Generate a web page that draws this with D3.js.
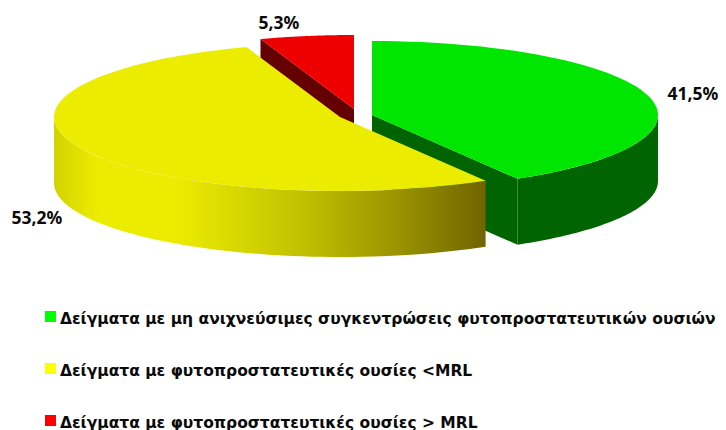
<!DOCTYPE html>
<html><head><meta charset="utf-8">
<script src="https://cdn.jsdelivr.net/npm/d3@7"></script>
<style>html,body{margin:0;padding:0;background:#fff}svg{display:block}
text{font-family:"Noto Sans","Open Sans",sans-serif;font-weight:700;fill:#0a0a0a}
.legend text{font-family:"DejaVu Sans",sans-serif}</style>
</head><body><svg id="c" width="726" height="430"></svg>
<script>
const categories=["Δείγματα με μη ανιχνεύσιμες συγκεντρώσεις φυτοπροστατευτικών ουσιών","Δείγματα με φυτοπροστατευτικές ουσίες <MRL","Δείγματα με φυτοπροστατευτικές ουσίες > MRL"];
const values=[41.5,53.2,5.3];
const valueLabels=["41,5%","53,2%","5,3%"];
const swatchColors=["#00ff00","#ffff00","#ff0000"];
const topColors=["#00e600","#ecec00","#ee0000"];
const wallColors=["#006400","#ecec00","#640000"];
const centers=[[372,115],[340,117],[354,109]];
const labelPos=[[693,100],[37,224],[279,29]];
const legendY=[316.5,368.5,420.5];
const RX=286,RY=74,DEPTH=66;

const svg=d3.select("#c");
const defs=svg.append("defs");
const grad=defs.append("linearGradient").attr("id","yw").attr("gradientUnits","userSpaceOnUse")
  .attr("x1",54).attr("x2",486).attr("y1",0).attr("y2",0);
[[0,"#d2d200"],[0.1,"#ecec00"],[0.28,"#ecec00"],[0.42,"#d8d800"],[0.58,"#c0c000"],[0.8,"#9a9200"],[1,"#6f6400"]]
  .forEach(([o,c])=>grad.append("stop").attr("offset",o).attr("stop-color",c));

const slices=d3.pie().sort(null)(values);
const pt=(c,a,dy=0)=>[c[0]+RX*Math.sin(a),c[1]-RY*Math.cos(a)+dy];
const samples=(a0,a1)=>d3.range(0,61).map(i=>a0+(a1-a0)*i/60);
const line=d3.line();
const g=svg.append("g");

function draw(i){
  const s=slices[i],c=centers[i];
  const lo=Math.max(s.startAngle,Math.PI/2),hi=Math.min(s.endAngle,Math.PI*1.5);
  if(hi>lo){
    const a=samples(lo,hi);
    g.append("path").attr("d",line([...a.map(t=>pt(c,t)),...a.slice().reverse().map(t=>pt(c,t,DEPTH))])+"Z")
     .attr("fill",i===1?"url(#yw)":wallColors[i]);
  }
  const cut=i===0?s.endAngle:i===2?s.startAngle:null;
  if(cut!==null){
    const p=pt(c,cut);
    g.append("path").attr("d",line([c,p,[p[0],p[1]+DEPTH],[c[0],c[1]+DEPTH]])+"Z").attr("fill",wallColors[i]);
  }
  g.append("path").attr("d",line([c,...samples(s.startAngle,s.endAngle).map(t=>pt(c,t))])+"Z").attr("fill",topColors[i]);
}
[2,0,1].forEach(draw);

svg.append("g").selectAll("text").data(valueLabels).join("text")
  .attr("x",(d,i)=>labelPos[i][0]).attr("y",(d,i)=>labelPos[i][1])
  .attr("text-anchor","middle").attr("font-size",17.5).text(d=>d);

const lg=svg.append("g").attr("class","legend").selectAll("g").data(categories).join("g");
lg.append("rect").attr("x",45).attr("width",11).attr("height",11)
  .attr("y",(d,i)=>legendY[i]-5.5).attr("fill",(d,i)=>swatchColors[i]);
lg.append("text").attr("x",60).attr("y",(d,i)=>legendY[i]+7).attr("font-size",15.5).text(d=>d);
</script></body></html>
